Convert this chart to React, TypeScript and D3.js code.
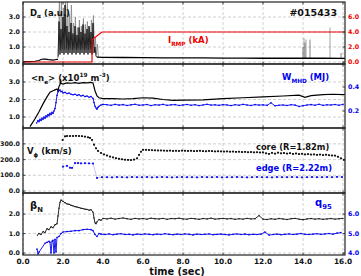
import React from 'react';
import * as d3 from 'd3';

const W = 361, H = 276;
const X0 = 23, X1 = 345, TMAX = 16.1;

const timeTicks = [0, 2, 4, 6, 8, 10, 12, 14, 16];

// ---------- Panel 1: D-alpha and I_RMP ----------
const dalphaT = [0, 0.3, 0.6, 0.8, 0.9, 1.0, 1.1, 1.2, 1.3, 1.4, 1.5, 1.6, 1.7, 1.75];
const dalphaV = [0.02, 0.03, 0.05, 0.1, 0.17, 0.2, 0.19, 0.17, 0.15, 0.14, 0.13, 0.15, 0.17, 0.18];
const dalphaPostT = [3.7, 4, 5, 6, 7, 8, 9, 10, 11, 12, 13, 14, 15, 16, 16.1];
const dalphaPostV = [0.33, 0.31, 0.3, 0.29, 0.28, 0.27, 0.27, 0.26, 0.26, 0.25, 0.25, 0.25, 0.25, 0.24, 0.24];
const elmBlackStart = 1.75, elmStep = 0.05;
const elmBlackV = [0.3, 2.7, 0.5, 2.2, 0.6, 3.0, 0.5, 3.8, 0.6, 2.4, 0.5, 2.0, 0.6, 2.6, 0.5, 1.9, 0.6, 2.4, 0.5, 1.8,
  0.6, 2.3, 0.5, 2.0, 0.6, 2.5, 0.5, 1.9, 0.6, 2.2, 0.5, 2.4, 0.6, 2.0, 0.5, 2.6, 0.6, 1.0, 0.4, 0.3];
const elmGreyStart = 1.77;
const elmGreyV = [0.4, 4.2, 0.8, 4.2, 0.9, 3.6, 0.8, 4.2, 0.9, 4.2, 0.8, 3.2, 0.9, 3.8, 0.8, 2.6, 0.9, 3.0, 0.8, 2.3,
  0.9, 2.8, 0.8, 2.4, 0.9, 2.9, 0.8, 2.5, 0.9, 2.7, 0.8, 2.3, 0.9, 2.8, 0.8, 3.1, 0.7, 1.6, 0.5, 1.2, 0.3];
const lateSpikeT = [14.0, 14.05, 14.1, 14.15, 14.35, 15.35, 15.9];
const lateSpikeH = [1.0, 1.6, 1.3, 1.5, 1.5, 2.3, 0.6];
const rmpT = [0, 3.45, 3.46, 3.95, 16.1];
const rmpV = [0, 0, 3.0, 4.0, 4.0];

// ---------- Panel 2: <ne> and W_MHD ----------
const neT = [0.35, 0.6, 0.8, 1.0, 1.2, 1.35, 1.5, 1.6, 1.7, 1.75, 1.8, 1.85, 1.88, 1.9, 2.0, 2.2, 2.4, 2.6, 2.8, 3.0, 3.2, 3.4, 3.5,
  3.6, 3.7, 3.8, 4.0, 4.5, 5.0, 5.5, 6.0, 6.5, 7.0, 7.5, 8.0, 9, 10, 11, 12, 13, 13.8, 14.1, 14.4, 15, 15.5, 16, 16.1];
const neV = [0.45, 0.9, 1.3, 1.75, 2.15, 2.42, 2.5, 2.55, 2.6, 2.5, 2.75, 2.85, 3.15, 2.92, 2.88, 2.95, 2.93, 2.96, 2.92, 2.97, 2.95, 2.98, 2.95,
  2.5, 2.2, 2.1, 2.05, 2.05, 2.03, 2.05, 2.1, 2.08, 2.0, 1.95, 1.96, 1.98, 2.05, 2.1, 2.15, 2.2, 2.25, 2.12, 2.22, 2.28, 2.3, 2.28, 2.3];
const wmhdT = [0.68, 0.75, 0.8, 0.85, 0.9, 0.95, 1.0, 1.05, 1.1, 1.15, 1.2, 1.25, 1.3, 1.35, 1.4, 1.45, 1.5, 1.55, 1.6, 1.65, 1.7, 1.75,
  1.8, 1.85, 1.9, 1.95, 2.0, 2.1, 2.2, 2.3, 2.4, 2.5, 2.6, 2.7, 2.8, 2.9, 3.0, 3.1, 3.2, 3.3, 3.4, 3.5, 3.55, 3.6, 3.65, 3.7, 3.75, 3.8, 3.9, 4.0];
const wmhdV = [0.10, 0.12, 0.11, 0.13, 0.12, 0.14, 0.13, 0.15, 0.14, 0.16, 0.15, 0.17, 0.16, 0.18, 0.17, 0.19, 0.18, 0.2, 0.22, 0.27, 0.33, 0.36,
  0.37, 0.375, 0.36, 0.365, 0.35, 0.355, 0.345, 0.35, 0.34, 0.335, 0.34, 0.33, 0.335, 0.325, 0.33, 0.32, 0.325, 0.315, 0.32, 0.305, 0.27, 0.24, 0.225, 0.215, 0.23, 0.24, 0.25, 0.255];
const wmhdLateStart = 4.2, wmhdLateStep = 0.2;
const wmhdLateV = [0.252, 0.247, 0.255, 0.249, 0.253, 0.246, 0.251, 0.256, 0.248, 0.25, 0.254, 0.245, 0.252, 0.249, 0.255, 0.247, 0.251, 0.253, 0.246, 0.25,
  0.254, 0.248, 0.252, 0.245, 0.25, 0.256, 0.249, 0.251, 0.247, 0.253, 0.25, 0.245, 0.252, 0.248, 0.255, 0.25, 0.246, 0.253, 0.249, 0.251,
  0.247, 0.268, 0.243, 0.248, 0.25, 0.246, 0.252, 0.249, 0.238, 0.244, 0.25, 0.253, 0.248, 0.256, 0.247, 0.251, 0.25, 0.254, 0.248, 0.255];

// ---------- Panel 3: V_phi ----------
const coreT = [1.98, 2.1, 2.2, 2.35, 2.5, 2.65, 2.8, 2.95, 3.1, 3.25, 3.35, 3.45, 3.55, 3.65, 3.75, 3.9, 4.05, 4.2, 4.35, 4.5,
  4.65, 4.8, 4.95, 5.1, 5.25, 5.4, 5.55, 5.7, 5.8, 5.9];
const coreV = [325, 348, 350, 350, 350, 351, 350, 349, 346, 342, 338, 325, 295, 272, 255, 242, 233, 226, 219, 214,
  209, 205, 202, 199, 198, 197, 200, 208, 230, 250];
const coreLateStart = 6.0, coreLateStep = 0.15;
const coreLateV = [262, 262, 261, 260, 259, 258, 258, 257, 256, 257, 255, 256, 255, 257, 256, 255, 256, 254, 255, 256,
  254, 253, 255, 254, 252, 253, 252, 251, 252, 250, 251, 249, 250, 248, 249, 247, 248, 246, 247, 245,
  246, 240, 236, 243, 238, 244, 240, 242, 238, 241, 236, 239, 235, 237, 233, 235, 232, 233, 230, 232,
  229, 231, 228, 226, 225, 218, 208, 198];
const edgeT = [2.0, 2.2, 2.35, 2.45, 2.6, 2.75, 2.9, 3.1, 3.3, 3.5];
const edgeV = [155, 160, 148, 147, 178, 178, 176, 177, 176, 175];
const edgeLateStart = 3.7, edgeLateStep = 0.25;
const edgeLateV = [83, 88, 88, 87, 89, 88, 87, 89, 88, 88, 89, 87, 88, 89, 88, 87, 88, 89, 88, 88,
  87, 89, 88, 88, 89, 87, 88, 88, 89, 88, 87, 88, 89, 88, 88, 87, 89, 88, 88, 89, 88, 87, 88, 89, 88, 88, 89, 88, 90, 89];

// ---------- Panel 4: beta_N and q95 ----------
const betaT = [0.72, 0.8, 0.9, 1.0, 1.1, 1.2, 1.3, 1.4, 1.5, 1.6, 1.7, 1.75, 1.8, 1.85, 1.9, 2.0, 2.1, 2.2, 2.3, 2.4, 2.5,
  2.6, 2.7, 2.8, 2.9, 3.0, 3.1, 3.2, 3.3, 3.4, 3.5, 3.55, 3.6, 3.65, 3.7, 3.8, 3.9];
const betaV = [0.92, 1.0, 0.95, 1.1, 1.05, 1.25, 1.2, 1.35, 1.3, 1.45, 1.5, 1.9, 2.3, 2.6, 2.72, 2.65, 2.58, 2.52, 2.5, 2.45, 2.42,
  2.38, 2.36, 2.33, 2.3, 2.28, 2.25, 2.24, 2.2, 2.22, 2.1, 1.8, 1.55, 1.5, 1.6, 1.72, 1.68];
const betaLateStart = 4.0, betaLateStep = 0.2;
const betaLateV = [1.78, 1.75, 1.79, 1.74, 1.77, 1.8, 1.76, 1.73, 1.78, 1.75, 1.77, 1.74, 1.79, 1.76, 1.75, 1.78, 1.73, 1.77, 1.76, 1.79,
  1.75, 1.74, 1.78, 1.76, 1.73, 1.77, 1.75, 1.79, 1.74, 1.76, 1.78, 1.75, 1.77, 1.73, 1.76, 1.74, 1.78, 1.75, 1.76, 1.92,
  1.74, 1.72, 1.76, 1.73, 1.77, 1.75, 1.72, 1.76, 1.78, 1.74, 1.71, 1.75, 1.77, 1.74, 1.76, 1.73, 1.75, 1.77, 1.74, 1.76, 1.78];
const qT = [0.7, 0.75, 0.8, 1.1, 1.2, 1.3, 1.35, 1.4, 1.45, 1.5, 1.55, 1.6, 1.65, 1.7, 1.8, 1.9, 2.0, 2.2, 2.4, 2.6, 2.8,
  3.0, 3.2, 3.4, 3.5, 3.6, 3.7, 3.8];
const qV = [4.2, 3.95, 4.05, 4.5, 4.55, 4.6, 4.55, 4.0, 4.6, 4.65, 4.0, 4.7, 4.05, 4.8, 4.85, 5.0, 5.08, 5.1, 5.12, 5.15, 5.15,
  5.2, 5.22, 5.2, 5.15, 4.95, 4.85, 5.0];
const qLateStart = 3.9, qLateStep = 0.2;
const qLateV = [4.97, 4.95, 4.98, 4.94, 4.97, 4.99, 4.95, 4.96, 4.93, 4.97, 4.95, 4.98, 4.96, 4.94, 4.97, 4.95, 4.99, 4.96, 4.94, 4.97,
  4.95, 4.98, 4.96, 4.93, 4.97, 4.95, 4.96, 4.98, 4.94, 4.96, 4.97, 4.95, 4.93, 4.96, 4.98, 4.95, 4.97, 4.94, 4.96, 4.95,
  4.97, 5.08, 4.92, 4.95, 4.97, 4.94, 4.96, 4.98, 4.95, 4.97, 5.0, 4.96, 4.95, 4.97, 4.99, 4.96, 4.98, 5.0, 4.97, 5.02, 5.05];

// ---------- helpers ----------
type Pt = [number, number];
const zip = (t: number[], v: number[]): Pt[] => t.map((ti, i) => [ti, v[i]] as Pt);
const sampled = (start: number, step: number, v: number[]): Pt[] => v.map((vi, i) => [start + step * i, vi] as Pt);

const xs = d3.scaleLinear().domain([0, TMAX]).range([X0, X1]);

const panels = [
  { top: 2, bottom: 64, yl: [-0.133, 4], yr: [-0.267, 8] },
  { top: 64, bottom: 128, yl: [0.371, 4.03], yr: [0.058, 0.592] },
  { top: 128, bottom: 193, yl: [-12.7, 401], yr: null },
  { top: 193, bottom: 255, yl: [-0.1, 3.08], yr: [3.9, 7.08] },
];
const leftTicks = [[0, 1, 2, 3], [1, 2, 3], [0, 100, 200, 300], [0, 1, 2]];
const rightTicks = [[0, 2, 4, 6], [0.2, 0.4], [], [4, 5, 6]];
const rightColors = ['#ee0000', '#0000ee', '#000', '#0000ee'];

const BLUE = '#0000ee';
const RED = '#ee0000';
const FONT = 'DejaVu Sans, sans-serif';

type Part = [string, number];
function Rich({ x, y, size, color, parts, anchor = 'start' }: { x: number; y: number; size: number; color: string; parts: Part[]; anchor?: string }) {
  let cur = 0;
  return (
    <text x={x} y={y} fontSize={size} fill={color} fontWeight="bold" fontFamily={FONT} textAnchor={anchor}>
      {parts.map(([t, m], i) => {
        const target = m === 1 ? size * 0.3 : m === 2 ? -size * 0.42 : 0;
        const dy = target - cur;
        cur = target;
        return (
          <tspan key={i} dy={dy} fontSize={m ? size * 0.68 : size}>{t}</tspan>
        );
      })}
    </text>
  );
}

export default function App() {
  const yL = panels.map(p => d3.scaleLinear().domain(p.yl).range([p.bottom, p.top]));
  const yR = panels.map(p => (p.yr ? d3.scaleLinear().domain(p.yr).range([p.bottom, p.top]) : null));
  const line = (y: d3.ScaleLinear<number, number>) => d3.line<Pt>().x(d => xs(d[0])).y(d => y(d[1]));

  const l1 = line(yL[0]);
  const lr1 = line(yR[0]!);
  const elmBlack = sampled(elmBlackStart, elmStep, elmBlackV);
  const elmGrey = sampled(elmGreyStart, elmStep, elmGreyV);

  const l2 = line(yL[1]);
  const lr2 = line(yR[1]!);
  const wAll = zip(wmhdT, wmhdV).concat(sampled(wmhdLateStart, wmhdLateStep, wmhdLateV));

  const l3 = line(yL[2]);
  const coreAll = zip(coreT, coreV).concat(sampled(coreLateStart, coreLateStep, coreLateV));
  const edgeAll = zip(edgeT, edgeV).concat(sampled(edgeLateStart, edgeLateStep, edgeLateV));

  const l4 = line(yL[3]);
  const lr4 = line(yR[3]!);
  const betaAll = zip(betaT, betaV).concat(sampled(betaLateStart, betaLateStep, betaLateV));
  const qAll = zip(qT, qV).concat(sampled(qLateStart, qLateStep, qLateV));

  return (
    <svg width={W} height={H} style={{ position: 'absolute', left: 0, top: 0, background: '#fff' }} fontFamily={FONT}>
      <defs>
        {panels.map((p, i) => (
          <clipPath id={`clip${i}`} key={i}>
            <rect x={X0} y={p.top} width={X1 - X0} height={p.bottom - p.top} />
          </clipPath>
        ))}
      </defs>
      <rect width={W} height={H} fill="#fff" />

      {panels.map((p, i) => (
        <g key={'g' + i}>
          {timeTicks.map(t => (
            <line key={t} x1={xs(t)} x2={xs(t)} y1={p.top} y2={p.bottom} stroke="#c4c4c4" strokeWidth={0.8} strokeDasharray="3,2" />
          ))}
          {leftTicks[i].map(v => (
            <line key={v} x1={X0} x2={X1} y1={yL[i](v)} y2={yL[i](v)} stroke="#c4c4c4" strokeWidth={0.8} strokeDasharray="3,2" />
          ))}
        </g>
      ))}

      <g clipPath="url(#clip0)">
        <path d={l1(elmGrey)!} fill="none" stroke="#8a8a8a" strokeWidth={0.9} />
        <path d={l1(elmBlack)!} fill="none" stroke="#111" strokeWidth={0.9} />
        {lateSpikeT.map((t, i) => (
          <line key={i} x1={xs(t)} x2={xs(t)} y1={yL[0](0.25)} y2={yL[0](lateSpikeH[i])} stroke={i % 2 ? '#666' : '#333'} strokeWidth={0.6} />
        ))}
        <path d={l1(zip(dalphaT, dalphaV))!} fill="none" stroke="#000" strokeWidth={1.2} />
        <path d={l1(zip(dalphaPostT, dalphaPostV))!} fill="none" stroke="#000" strokeWidth={1.3} />
        <path d={lr1(zip(rmpT, rmpV))!} fill="none" stroke={RED} strokeWidth={1.2} />
      </g>

      <g clipPath="url(#clip1)">
        <path d={lr2(wAll)!} fill="none" stroke={BLUE} strokeWidth={0.9} />
        {wAll.map((d, i) => (
          <circle key={i} cx={xs(d[0])} cy={yR[1]!(d[1])} r={0.8} fill={BLUE} />
        ))}
        <path d={l2(zip(neT, neV))!} fill="none" stroke="#000" strokeWidth={1.2} />
      </g>

      <g clipPath="url(#clip2)">
        <path d={l3(edgeAll)!} fill="none" stroke={BLUE} strokeWidth={0.4} opacity={0.6} />
        {edgeAll.map((d, i) => (
          <rect key={i} x={xs(d[0]) - 0.9} y={yL[2](d[1]) - 0.9} width={1.8} height={1.8} fill={BLUE} />
        ))}
        <path d={l3(coreAll)!} fill="none" stroke="#000" strokeWidth={0.3} opacity={0.5} />
        {coreAll.map((d, i) => (
          <rect key={i} x={xs(d[0]) - 0.9} y={yL[2](d[1]) - 0.9} width={1.8} height={1.8} fill="#000" />
        ))}
      </g>

      <g clipPath="url(#clip3)">
        <path d={lr4(qAll)!} fill="none" stroke={BLUE} strokeWidth={0.9} />
        {qAll.map((d, i) => (
          <circle key={i} cx={xs(d[0])} cy={yR[3]!(d[1])} r={0.8} fill={BLUE} />
        ))}
        <path d={l4(betaAll)!} fill="none" stroke="#111" strokeWidth={0.9} />
        {betaAll.map((d, i) => (
          <circle key={i} cx={xs(d[0])} cy={yL[3](d[1])} r={0.7} fill="#111" />
        ))}
      </g>

      {panels.map((p, i) => (
        <g key={'f' + i}>
          <rect x={X0} y={p.top} width={X1 - X0} height={p.bottom - p.top} fill="none" stroke="#222" strokeWidth={1.2} />
          {timeTicks.map(t => (
            <g key={t}>
              <line x1={xs(t)} x2={xs(t)} y1={p.bottom} y2={p.bottom - 2.5} stroke="#222" strokeWidth={0.8} />
              <line x1={xs(t)} x2={xs(t)} y1={p.top} y2={p.top + 2.5} stroke="#222" strokeWidth={0.8} />
            </g>
          ))}
          {leftTicks[i].map(v => (
            <g key={v}>
              <line x1={X0} x2={X0 + 2.5} y1={yL[i](v)} y2={yL[i](v)} stroke="#222" strokeWidth={0.8} />
              <text x={20} y={yL[i](v) + 2.2} fontSize={6.3} fontWeight="bold" textAnchor="end" fill="#111">
                {v.toFixed(1)}
              </text>
            </g>
          ))}
          {yR[i] && rightTicks[i].map(v => (
            <g key={v}>
              <line x1={X1} x2={X1 - 2.5} y1={yR[i]!(v)} y2={yR[i]!(v)} stroke="#222" strokeWidth={0.8} />
              <text x={348} y={yR[i]!(v) + 2.2} fontSize={6.3} fontWeight="bold" fill={rightColors[i]}>
                {v.toFixed(1)}
              </text>
            </g>
          ))}
        </g>
      ))}

      {timeTicks.map(t => (
        <text key={t} x={xs(t)} y={264} fontSize={7.4} fontWeight="bold" textAnchor="middle" fill="#111">
          {t.toFixed(1)}
        </text>
      ))}
      <text x={177} y={274.5} fontSize={9.8} fontWeight="bold" textAnchor="middle" fill="#111">time (sec)</text>

      <Rich x={30} y={15.5} size={8.5} color="#111" parts={[['D', 0], ['α', 1], [' (a.u.)', 0]]} />
      <text x={337} y={16} fontSize={9.5} fontWeight="bold" textAnchor="end" fill="#111">#015433</text>
      <Rich x={168} y={43} size={8.5} color={RED} parts={[['I', 0], ['RMP', 1], [' (kA)', 0]]} />
      <Rich x={31} y={81} size={8.5} color="#111" parts={[['<n', 0], ['e', 1], ['> (x10', 0], ['19', 2], [' m', 0], ['-3', 2], [')', 0]]} />
      <Rich x={282} y={80} size={8.5} color={BLUE} parts={[['W', 0], ['MHD', 1], [' (MJ)', 0]]} />
      <Rich x={27} y={154} size={8.5} color="#111" parts={[['V', 0], ['ϕ', 1], [' (km/s)', 0]]} />
      <text x={256} y={150} fontSize={8.3} fontWeight="bold" fill="#111">core (R=1.82m)</text>
      <text x={256} y={171} fontSize={8.3} fontWeight="bold" fill={BLUE}>edge (R=2.22m)</text>
      <Rich x={30} y={209} size={10} color="#111" parts={[['β', 0], ['N', 1]]} />
      <Rich x={315} y={206} size={10} color={BLUE} parts={[['q', 0], ['95', 1]]} />
    </svg>
  );
}
